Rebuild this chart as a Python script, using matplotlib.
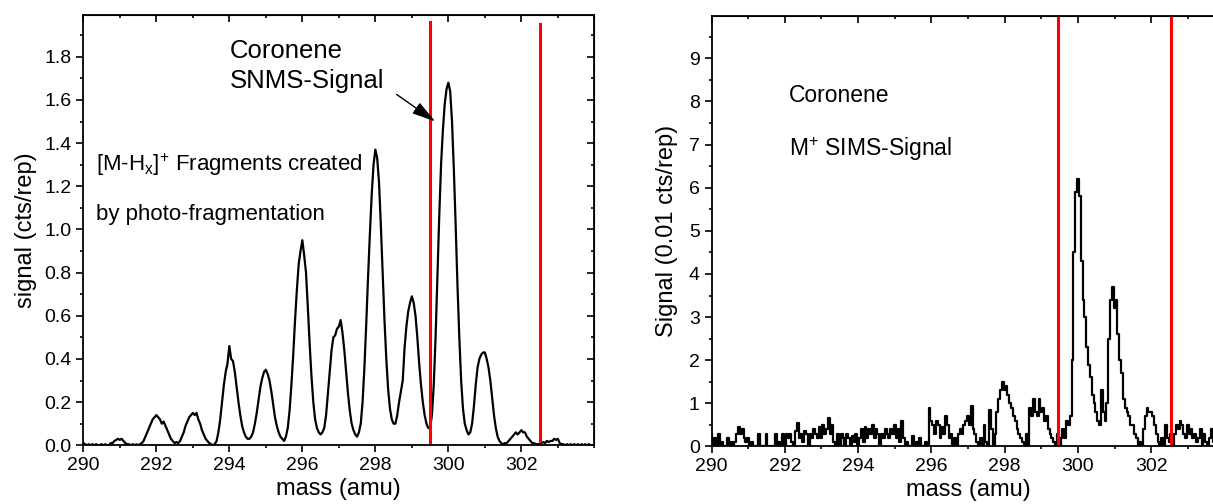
import matplotlib.pyplot as plt
import numpy as np

plt.rcParams['font.family'] = ['Liberation Sans', 'DejaVu Sans']
plt.rcParams['mathtext.fontset'] = 'custom'
plt.rcParams['mathtext.rm'] = 'Liberation Sans'

########   SNMS spectrum (left), read every 0.05 amu from 290.00   ########
mass_start = 290.0
mass_step = 0.05
snms = [
    0.01, 0.005, 0.0, 0.005, 0.0, 0.005, 0.0, 0.005, 0.0, 0.0, 0.005, 0.0, 0.005, 0.0, 0.0, 0.01, 0.01, 0.02, 0.025, 0.03,   # 290
    0.025, 0.03, 0.02, 0.01, 0.005, 0.005, 0.0, 0.005, 0.0, 0.005, 0.0, 0.005, 0.01, 0.02, 0.04, 0.06, 0.08, 0.10, 0.12, 0.13,  # 291
    0.14, 0.13, 0.12, 0.10, 0.11, 0.09, 0.07, 0.05, 0.03, 0.02, 0.01, 0.015, 0.01, 0.02, 0.04, 0.06, 0.09, 0.11, 0.13, 0.14,  # 292
    0.15, 0.14, 0.15, 0.12, 0.10, 0.07, 0.05, 0.03, 0.02, 0.01, 0.005, 0.0, 0.005, 0.02, 0.06, 0.12, 0.20, 0.28, 0.34, 0.38,  # 293
    0.46, 0.40, 0.39, 0.34, 0.27, 0.20, 0.14, 0.09, 0.06, 0.04, 0.03, 0.03, 0.04, 0.06, 0.10, 0.15, 0.21, 0.27, 0.31, 0.34,  # 294
    0.35, 0.33, 0.30, 0.25, 0.19, 0.13, 0.09, 0.06, 0.04, 0.03, 0.02, 0.04, 0.08, 0.16, 0.28, 0.42, 0.58, 0.72, 0.84, 0.90,  # 295
    0.95, 0.88, 0.80, 0.64, 0.47, 0.32, 0.20, 0.12, 0.08, 0.06, 0.05, 0.06, 0.08, 0.14, 0.24, 0.34, 0.44, 0.50, 0.51, 0.54,  # 296
    0.55, 0.58, 0.52, 0.44, 0.34, 0.24, 0.16, 0.10, 0.07, 0.05, 0.04, 0.06, 0.10, 0.20, 0.36, 0.56, 0.78, 0.98, 1.16, 1.30,  # 297
    1.37, 1.33, 1.22, 1.02, 0.80, 0.58, 0.40, 0.26, 0.17, 0.12, 0.10, 0.10, 0.14, 0.20, 0.25, 0.30, 0.45, 0.55, 0.62, 0.66,  # 298
    0.69, 0.66, 0.60, 0.50, 0.38, 0.28, 0.20, 0.14, 0.10, 0.08, 0.08, 0.14, 0.28, 0.50, 0.78, 1.06, 1.30, 1.46, 1.58, 1.65,  # 299
    1.68, 1.64, 1.50, 1.28, 1.02, 0.74, 0.50, 0.30, 0.17, 0.10, 0.07, 0.05, 0.06, 0.10, 0.18, 0.28, 0.36, 0.40, 0.42, 0.43,  # 300
    0.43, 0.40, 0.36, 0.30, 0.22, 0.14, 0.08, 0.04, 0.02, 0.01, 0.005, 0.01, 0.01, 0.02, 0.03, 0.04, 0.05, 0.06, 0.05, 0.06,  # 301
    0.07, 0.06, 0.06, 0.04, 0.03, 0.02, 0.01, 0.01, 0.005, 0.005, 0.005, 0.01, 0.015, 0.01, 0.02, 0.015, 0.02, 0.02, 0.03, 0.025,  # 302
    0.03, 0.01, 0.005, 0.005, 0.0, 0.005, 0.0, 0.005, 0.0, 0.005, 0.0, 0.005, 0.0, 0.005, 0.0, 0.005, 0.0, 0.005,  # 303
]

########   SIMS spectrum (right), 0.01 cts/rep, same grid   ########
sims = [
    0.3, 0.0, 0.2, 0.0, 0.3, 0.0, 0.1, 0.0, 0.0, 0.2, 0.0, 0.1, 0.0, 0.1, 0.3, 0.45, 0.3, 0.4, 0.2, 0.1,   # 290
    0.2, 0.0, 0.1, 0.0, 0.0, 0.0, 0.3, 0.0, 0.0, 0.0, 0.3, 0.0, 0.0, 0.0, 0.0, 0.3, 0.0, 0.1, 0.0, 0.3,     # 291
    0.0, 0.3, 0.2, 0.3, 0.1, 0.0, 0.35, 0.55, 0.2, 0.3, 0.1, 0.35, 0.3, 0.0, 0.3, 0.2, 0.4, 0.3, 0.2, 0.45, # 292
    0.2, 0.5, 0.3, 0.4, 0.65, 0.3, 0.5, 0.1, 0.0, 0.3, 0.0, 0.3, 0.2, 0.0, 0.3, 0.2, 0.0, 0.25, 0.1, 0.3,  # 293
    0.0, 0.2, 0.4, 0.1, 0.45, 0.2, 0.4, 0.3, 0.5, 0.2, 0.4, 0.3, 0.0, 0.3, 0.2, 0.4, 0.3, 0.2, 0.4, 0.3,   # 294
    0.5, 0.2, 0.4, 0.1, 0.6, 0.2, 0.0, 0.1, 0.0, 0.0, 0.25, 0.0, 0.1, 0.0, 0.2, 0.0, 0.0, 0.1, 0.0, 0.9,   # 295
    0.6, 0.5, 0.3, 0.6, 0.5, 0.2, 0.45, 0.3, 0.7, 0.5, 0.2, 0.3, 0.0, 0.2, 0.0, 0.3, 0.4, 0.3, 0.5, 0.6,   # 296
    0.7, 0.5, 0.95, 0.4, 0.3, 0.1, 0.0, 0.2, 0.0, 0.5, 0.1, 0.0, 0.85, 0.4, 0.0, 0.3, 0.8, 1.1, 1.3, 1.5,  # 297
    1.3, 1.4, 1.2, 1.0, 0.9, 0.7, 0.6, 0.4, 0.3, 0.2, 0.1, 0.0, 0.3, 0.0, 0.9, 0.7, 1.1, 0.8, 0.7, 1.1,    # 298
    0.8, 0.9, 0.6, 0.7, 0.4, 0.3, 0.2, 0.1, 0.0, 0.3, 0.0, 0.2, 0.4, 0.2, 0.6, 0.5, 0.7, 2.0, 4.5, 5.9,    # 299
    6.2, 5.8, 4.3, 3.4, 3.0, 2.3, 1.9, 1.6, 1.2, 1.0, 0.8, 0.6, 0.5, 1.3, 0.8, 0.6, 1.0, 2.5, 3.4, 3.7,    # 300
    3.2, 3.4, 2.6, 2.0, 1.7, 1.1, 0.9, 0.8, 0.7, 0.5, 0.5, 0.3, 0.2, 0.0, 0.1, 0.0, 0.4, 0.7, 0.9, 0.8,    # 301
    0.8, 0.7, 0.5, 0.3, 0.1, 0.0, 0.2, 0.0, 0.5, 0.2, 0.1, 0.3, 0.0, 0.3, 0.5, 0.4, 0.6, 0.5, 0.3, 0.2,    # 302
    0.5, 0.3, 0.4, 0.2, 0.3, 0.1, 0.2, 0.4, 0.0, 0.3, 0.1, 0.0, 0.2, 0.4, 0.1, 0.0, 0.3, 0.0, 0.2, 0.0,    # 303
    0.1,
]

mass_snms = mass_start + mass_step * np.arange(len(snms))
mass_sims = mass_start + mass_step * np.arange(len(sims))

# red marker lines: (mass, ymin, ymax)
red_left = [(299.5, 0.0, 1.96), (302.5, 0.02, 1.95)]
red_right = [(299.45, 0.0, 10.0), (302.55, 0.0, 10.0)]

x_major = [290, 292, 294, 296, 298, 300, 302]
x_minor = list(range(290, 305))

fig = plt.figure(figsize=(12.13, 5.04), dpi=100)


def style_axes(ax, ymaj, ymin, ylim):
    ax.set_xlim(290, 304)
    ax.set_ylim(*ylim)
    ax.set_xticks(x_major)
    ax.set_xticks(x_minor, minor=True)
    ax.set_yticks(ymaj)
    ax.set_yticks(ymin, minor=True)
    ax.tick_params(which='both', direction='out', labelsize=14, width=1.2)
    ax.tick_params(which='major', length=5)
    ax.tick_params(which='minor', length=2.5)
    for s in ax.spines.values():
        s.set_linewidth(1.3)
    top = ax.secondary_xaxis('top')
    top.set_xticks(x_major)
    top.set_xticks(x_minor, minor=True)
    top.set_xticklabels([])
    top.tick_params(which='both', direction='in', width=1.2)
    top.tick_params(which='major', length=5)
    top.tick_params(which='minor', length=2.5)
    right = ax.secondary_yaxis('right')
    right.set_yticks(ymaj)
    right.set_yticks(ymin, minor=True)
    right.set_yticklabels([])
    right.tick_params(which='both', direction='in', width=1.2)
    right.tick_params(which='major', length=5)
    right.tick_params(which='minor', length=2.5)
    ax.set_xlabel('mass (amu)', fontsize=17, labelpad=3)


##########   left panel: SNMS   ##########
ax1 = fig.add_axes([0.0687, 0.1165, 0.4213, 0.8544])
ax1.plot(mass_snms, snms, c='k', lw=1.6)
for m, y0, y1 in red_left:
    ax1.plot([m, m], [y0, y1], c='#ff0000', lw=2.2)
style_axes(ax1, np.arange(0, 1.81, 0.2), np.arange(0, 2.0, 0.1), (0, 1.995))
ax1.set_yticklabels(['%.1f' % v for v in np.arange(0, 1.81, 0.2)])
ax1.set_ylabel('signal (cts/rep)', fontsize=17, labelpad=5)
ax1.text(294.0, 1.826, 'Coronene', fontsize=18.5, va='center')
ax1.text(294.0, 1.686, 'SNMS-Signal', fontsize=18.5, va='center')
ax1.text(290.36, 1.30, r'[M-H$_\mathregular{x}$]$^\mathregular{+}$ Fragments created', fontsize=16, va='center')
ax1.text(290.36, 1.068, 'by photo-fragmentation', fontsize=16, va='center')
ax1.annotate('', xy=(299.70, 1.493), xytext=(298.52, 1.633),
             arrowprops=dict(arrowstyle='-|>,head_length=0.9,head_width=0.25',
                             color='k', lw=1.0, mutation_scale=16))

##########   right panel: SIMS   ##########
ax2 = fig.add_axes([0.5866, 0.1141, 0.4229, 0.8548])
ax2.plot(mass_sims, sims, c='k', lw=1.6, drawstyle='steps-mid')
for m, y0, y1 in red_right:
    ax2.plot([m, m], [y0, y1], c='#ff0000', lw=2.2)
style_axes(ax2, np.arange(0, 10), np.arange(0, 10, 0.5), (0, 9.99))
ax2.set_ylabel('Signal (0.01 cts/rep)', fontsize=17, labelpad=8)
ax2.text(292.11, 8.13, 'Coronene', fontsize=16.5, va='center')
ax2.text(292.11, 6.9, r'M$^\mathregular{+}$ SIMS-Signal', fontsize=16.5, va='center')

plt.savefig('out.png', dpi=100)
